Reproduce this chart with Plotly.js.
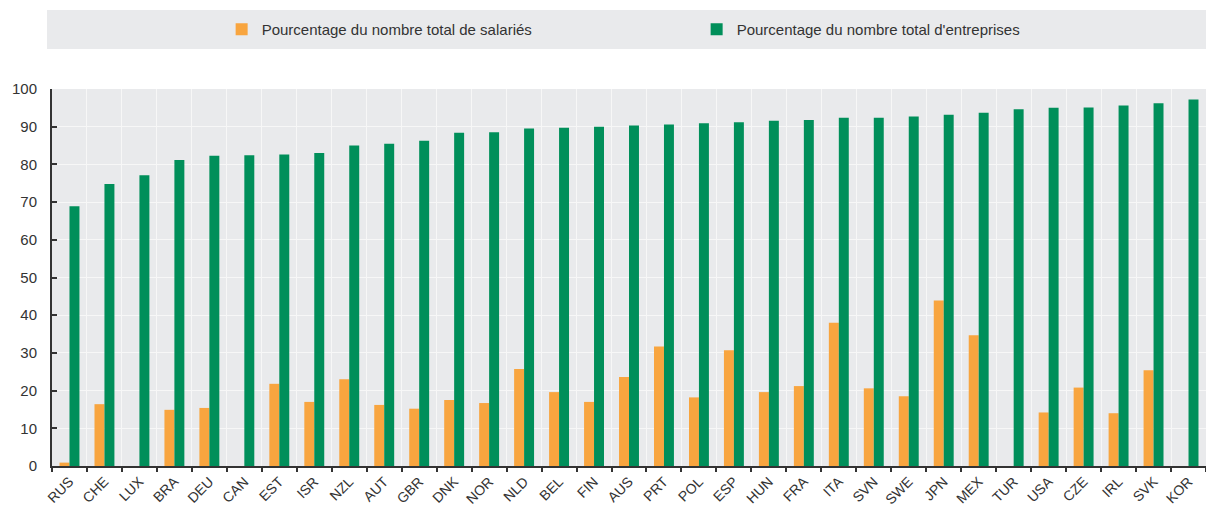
<!DOCTYPE html>
<html>
<head>
<meta charset="utf-8">
<script src="https://cdn.plot.ly/plotly-3.0.1.min.js"></script>
<style>html,body{margin:0;padding:0;background:#fff;}#chart{width:1206px;height:506px;}</style>
</head>
<body>
<div id="chart"></div>
<script>
const countries = ["RUS","CHE","LUX","BRA","DEU","CAN","EST","ISR","NZL","AUT","GBR","DNK","NOR","NLD","BEL","FIN","AUS","PRT","POL","ESP","HUN","FRA","ITA","SVN","SWE","JPN","MEX","TUR","USA","CZE","IRL","SVK","KOR"];
const salaries = [0.9,16.4,null,14.9,15.4,null,21.8,17.0,23.0,16.2,15.2,17.5,16.7,25.7,19.6,17.0,23.6,31.7,18.2,30.7,19.6,21.2,38.0,20.6,18.5,43.9,34.7,null,14.2,20.8,14.0,25.4,null];
const entreprises = [68.9,74.8,77.1,81.2,82.3,82.4,82.6,83.0,85.0,85.5,86.3,88.4,88.5,89.5,89.7,90.0,90.3,90.6,90.9,91.2,91.6,91.8,92.4,92.4,92.7,93.2,93.7,94.6,95.0,95.1,95.6,96.2,97.2];
const seriesNames = ["Pourcentage du nombre total de salariés","Pourcentage du nombre total d'entreprises"];

const FONT = "'Liberation Sans', Arial, Helvetica, sans-serif";

const traces = [
  {type:'bar', x:countries, y:salaries, name:seriesNames[0], marker:{color:'#f8a53f'}, hoverinfo:'x+y'},
  {type:'bar', x:countries, y:entreprises, name:seriesNames[1], marker:{color:'#008f5a'}, hoverinfo:'x+y'}
];

const layout = {
  width:1206, height:506,
  margin:{l:52, r:0, t:89, b:40},
  paper_bgcolor:'#ffffff',
  plot_bgcolor:'#e9eaec',
  font:{family:FONT, size:15, color:'#333333'},
  barmode:'group', bargap:0.43, bargroupgap:0,
  showlegend:true,
  legend:{orientation:'h', x:0.147, xanchor:'left', y:1.158, yanchor:'middle',
          bgcolor:'rgba(0,0,0,0)', font:{family:FONT, size:15, color:'#333333'},
          entrywidth:430, traceorder:'normal'},
  shapes:[{type:'rect', xref:'paper', yref:'paper', x0:-0.0043, x1:1, y0:1.106, y1:1.2095,
           fillcolor:'#e9eaec', line:{width:0}, layer:'below'}],
  xaxis:{type:'category', tickson:'boundaries', showgrid:true, gridcolor:'#f7f7f7', gridwidth:1,
         ticks:'outside', ticklen:4, tickwidth:2, tickcolor:'#333333',
         showline:true, linecolor:'#333333', linewidth:2,
         tickangle:-45, tickfont:{family:FONT, size:14, color:'#333333'}, fixedrange:true},
  yaxis:{range:[0,100], dtick:10, tick0:0, showgrid:true, gridcolor:'#f7f7f7', gridwidth:1,
         ticks:'inside', ticklen:5, tickwidth:2, tickcolor:'#333333',
         showline:true, linecolor:'#333333', linewidth:2, zeroline:false, ticklabelstandoff:10,
         tickfont:{family:FONT, size:15, color:'#333333'}, fixedrange:true}
};

Plotly.newPlot('chart', traces, layout, {displayModeBar:false, staticPlot:true});
</script>
</body>
</html>
